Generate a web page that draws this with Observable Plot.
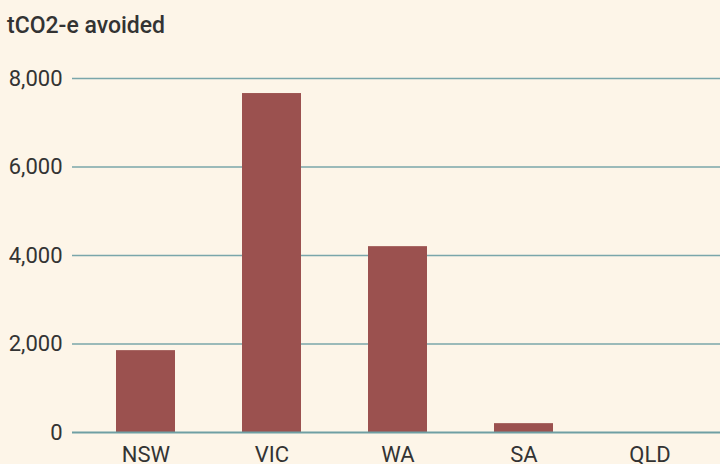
<!DOCTYPE html>
<html>
<head>
<meta charset="utf-8">
<script src="https://cdn.jsdelivr.net/npm/d3@7"></script>
<script src="https://cdn.jsdelivr.net/npm/@observablehq/plot@0.6"></script>
<style>
  html, body { margin: 0; padding: 0; background: #fdf5e8; }
  #wrap { width: 720px; height: 464px; overflow: hidden; background: #fdf5e8; }
  #title { height: 50px; box-sizing: border-box; padding: 14px 0 0 7px; font-family: Roboto, sans-serif; font-weight: 500; font-size: 23px; line-height: 23px; color: #333; }
</style>
</head>
<body>
<div id="wrap">
  <div id="title">tCO2-e avoided</div>
  <div id="chart"></div>
</div>
<script>
const regions = ["NSW", "VIC", "WA", "SA", "QLD"];
const avoided = [1850, 7660, 4200, 200, 0];
const yTicks = [0, 2000, 4000, 6000, 8000];

const data = regions.map((r, i) => ({region: r, value: avoided[i]}));

const chart = Plot.plot({
  width: 720,
  height: 414,
  marginLeft: 72,
  marginRight: 0,
  marginTop: 28,
  marginBottom: 32,
  style: {background: "#fdf5e8", fontFamily: "Roboto, sans-serif", fontSize: "22px", color: "#333"},
  x: {domain: regions, range: [80, 714], paddingInner: 0.535, paddingOuter: 0.2675, label: null},
  y: {domain: [0, 8000], label: null},
  marks: [
    Plot.gridY(yTicks.slice(1), {stroke: "#7aa6aa", strokeOpacity: 1, strokeWidth: 1.4}),
    Plot.barY(data, {x: "region", y: "value", fill: "#9b514f"}),
    Plot.ruleY([0], {stroke: "#6f9fa3", strokeWidth: 2}),
    Plot.axisY(yTicks, {tickSize: 0, tickPadding: 10, tickFormat: d3.format(","), label: null, fill: "#333"}),
    Plot.axisX({tickSize: 0, tickPadding: 14, label: null, fill: "#333"})
  ]
});
document.getElementById("chart").appendChild(chart);
</script>
</body>
</html>
